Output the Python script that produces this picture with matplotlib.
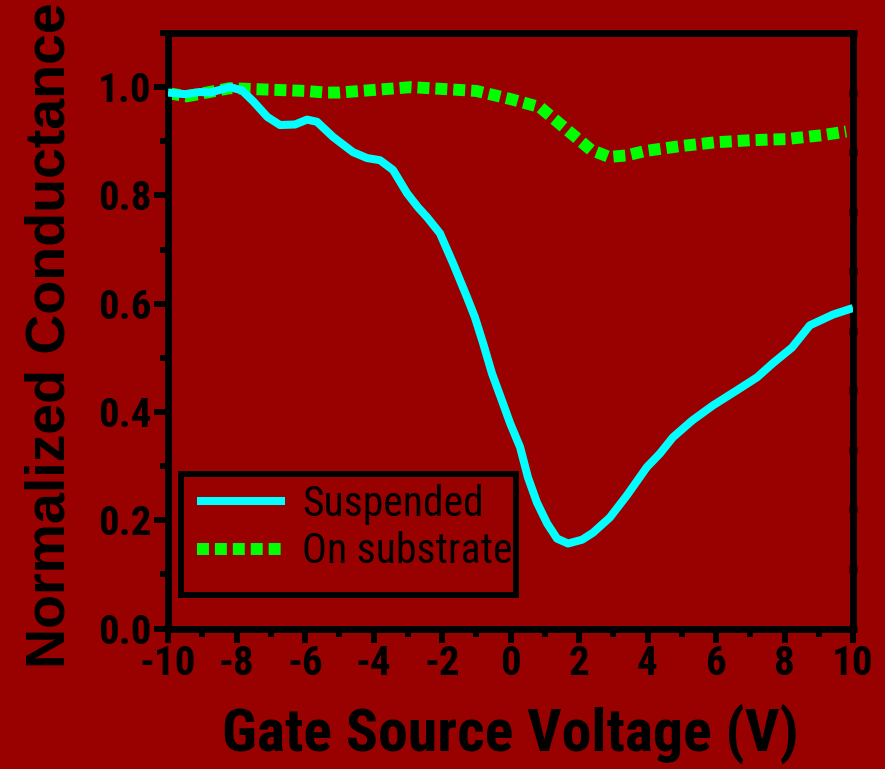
import matplotlib
matplotlib.use("Agg")
import matplotlib.pyplot as plt
from matplotlib.patches import Rectangle
import numpy as np

# ---------------- data ----------------
sus_x = [-10, -9.5, -9.07, -8.77, -8.42, -8.19, -7.84, -7.5, -7.1, -6.73, -6.29, -5.94,
         -5.65, -5.18, -4.6, -4.19, -3.81, -3.43, -3.02, -2.7, -2.44, -2.06, -1.68, -1.27,
         -1.04, -0.8, -0.54, -0.25, -0.01, 0.28, 0.51, 0.77, 1.07, 1.36, 1.68, 2.09, 2.41,
         2.9, 3.4, 3.98, 4.36, 4.74, 5.3, 5.91, 6.61, 7.2, 7.66, 8.22, 8.74, 9.42, 10.0]
sus_y = [0.99, 0.987, 0.991, 0.99, 0.996, 1.0, 0.994, 0.973, 0.945, 0.93, 0.931, 0.94,
         0.936, 0.908, 0.88, 0.869, 0.865, 0.847, 0.804, 0.778, 0.76, 0.73, 0.675, 0.612,
         0.575, 0.527, 0.471, 0.421, 0.379, 0.335, 0.279, 0.233, 0.194, 0.166, 0.157, 0.164,
         0.177, 0.205, 0.246, 0.298, 0.323, 0.353, 0.384, 0.412, 0.44, 0.464, 0.49, 0.519,
         0.56, 0.58, 0.592]

sub_x = [-10, -9.45, -8.2, -6.0, -5.4, -5.0, -2.9, -1.0, 0.0, 0.86, 2.35, 2.88, 3.4,
         3.93, 4.95, 5.97, 7.02, 8.04, 9.07, 9.8]
sub_y = [0.989, 0.983, 0.998, 0.993, 0.99, 0.99, 1.0, 0.993, 0.978, 0.963, 0.884, 0.871,
         0.874, 0.882, 0.891, 0.898, 0.902, 0.904, 0.911, 0.918]

series_labels = ["Suspended", "On substrate"]
x_label = "Gate Source Voltage (V)"
y_label = "Normalized Conductance"
x_ticks = [-10, -8, -6, -4, -2, 0, 2, 4, 6, 8, 10]
y_ticks = [0.0, 0.2, 0.4, 0.6, 0.8, 1.0]

# ---------------- style ----------------
NARROW = ["Roboto Condensed", "Liberation Sans", "DejaVu Sans"]
WIDE = ["Liberation Sans", "DejaVu Sans"]
BG = "#990000"
CYAN = "#00FFFF"
GREEN = "#00FF00"

fig = plt.figure(figsize=(8.85, 7.69), dpi=100, facecolor=BG)
W, H = 885, 769
l, r, t, b = 168, 853, 33, 628.5
ax = fig.add_axes([l / W, 1 - b / H, (r - l) / W, (b - t) / H])
ax.set_facecolor(BG)


def ax_xy(px, py):
    """pixel position (from top-left) -> axes fraction"""
    return (px - l) / (r - l), (b - py) / (b - t)


ax.plot(sus_x, sus_y, color=CYAN, lw=5.8, solid_joinstyle="round",
        solid_capstyle="butt", label=series_labels[0], zorder=3)
ax.plot(sub_x, sub_y, color=GREEN, lw=8.6, dashes=(1.0, 0.5),
        dash_capstyle="butt", dash_joinstyle="miter", label=series_labels[1], zorder=2)

ax.set_xlim(-10, 10)
ax.set_ylim(0, 1.1)
ax.set_xticks(x_ticks)
ax.set_xticks(np.arange(-9, 10, 2), minor=True)
ax.set_yticks(y_ticks)
ax.set_yticks(np.arange(0.1, 1.11, 0.2), minor=True)
ax.set_xticklabels([f"{v:d}" for v in x_ticks])
ax.set_yticklabels([f"{v:.1f}" for v in y_ticks])

for s in ax.spines.values():
    s.set_linewidth(5)
    s.set_color("black")

ax.tick_params(which="major", direction="out", length=10, width=4.3, color="black",
               pad=2, top=False, right=False)
ax.tick_params(which="minor", direction="out", length=6, width=4.3, color="black",
               top=False, right=False)
for lab in ax.get_xticklabels() + ax.get_yticklabels():
    lab.set_fontfamily(NARROW)
    lab.set_fontweight("bold")
    lab.set_fontsize(29.5)
    lab.set_color("black")

# small marks on right spine
ax2 = ax.twinx()
ax2.set_ylim(0, 1.1)
ax2.set_yticks(np.arange(0, 1.101, 0.11))
ax2.tick_params(axis="y", direction="inout", length=6, width=5, color="black",
                labelright=False)
for s in ax2.spines.values():
    s.set_visible(False)

ax.set_xlabel(x_label, fontfamily=NARROW, fontweight="bold", fontsize=43, color="black")
ax.xaxis.label.set_va("baseline")
ax.xaxis.set_label_coords(0.5, ax_xy(0, 752)[1])
ax.set_ylabel(y_label, fontfamily=WIDE, fontweight="bold", fontsize=40, color="black")
ax.yaxis.label.set_va("baseline")
ax.yaxis.set_label_coords(ax_xy(65, 0)[0], ax_xy(0, 335)[1])

# legend: frame drawn as a rectangle, entries placed inside
x0, y0 = ax_xy(181, 595)
x1, y1 = ax_xy(516, 474)
frame = Rectangle((x0, y0), x1 - x0, y1 - y0, transform=ax.transAxes,
                  facecolor=BG, edgecolor="black", linewidth=4.3, zorder=4)
ax.add_patch(frame)
leg = ax.legend(loc="center left", bbox_to_anchor=ax_xy(197, 528),
                frameon=False, prop={"family": NARROW, "size": 30},
                handlelength=2.1, handletextpad=0.42, labelspacing=0.15,
                borderpad=0.0, borderaxespad=0.0)
leg.set_zorder(5)
for txt in leg.get_texts():
    txt.set_color("black")

fig.savefig("out.png", dpi=100, facecolor=BG)
